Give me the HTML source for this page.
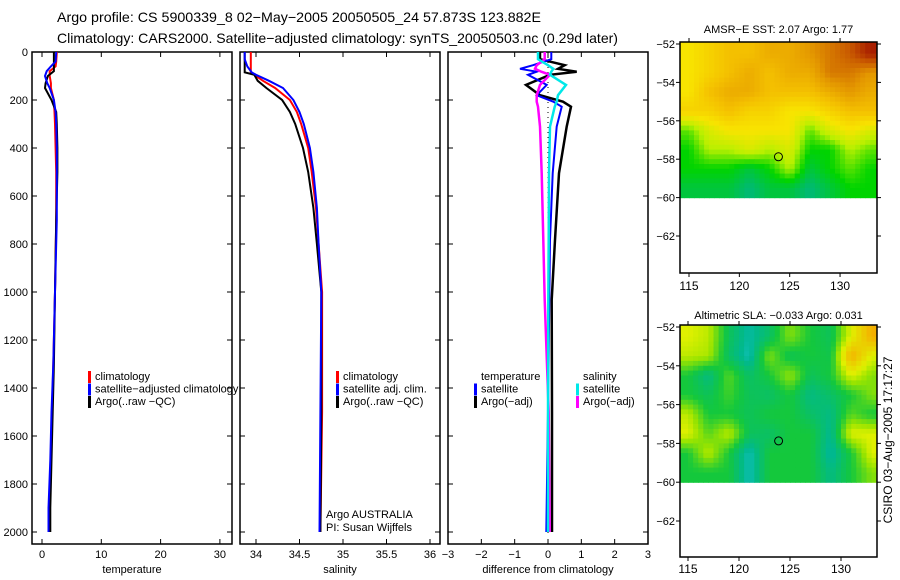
<!DOCTYPE html>
<html><head><meta charset="utf-8"><style>
html,body{margin:0;padding:0;background:#fff;}
svg{display:block;font-family:"Liberation Sans",sans-serif;}
</style></head><body>
<svg id="fig" width="900" height="580" viewBox="0 0 900 580" xmlns="http://www.w3.org/2000/svg">
<text x="57" y="22" font-size="14" textLength="484" lengthAdjust="spacingAndGlyphs">Argo profile: CS 5900339_8 02−May−2005 20050505_24 57.873S 123.882E</text>
<text x="57" y="43" font-size="14" textLength="561" lengthAdjust="spacingAndGlyphs">Climatology: CARS2000. Satellite−adjusted climatology: synTS_20050503.nc (0.29d later)</text>
<g id="plots"></g>
<text transform="translate(892,440) rotate(-90)" text-anchor="middle" font-size="12">CSIRO 03−Aug−2005 17:17:27</text>
</svg>
<script>
// ---- profile data ----
const tDepth = [0,40,60,80,100,130,150,200,250,300,400,500,700,1000,1300,1500,1700,1900,2000];
const tClim  = [2.5,2.4,2.3,1.3,1.3,1.5,1.5,2.0,2.1,2.2,2.3,2.4,2.4,2.2,1.9,1.7,1.5,1.3,1.3];
const tSat   = [2.4,2.3,1.5,0.8,0.5,0.9,1.3,2.0,2.3,2.4,2.5,2.5,2.5,2.2,1.9,1.6,1.4,1.1,1.1];
const tArgo  = [2.0,2.0,2.0,2.0,1.0,0.6,0.5,1.6,2.4,2.5,2.6,2.6,2.4,2.2,2.0,1.8,1.6,1.4,1.4];
const sDepth = [0,30,60,85,95,120,150,200,250,300,400,500,650,800,1000,1500,2000];
const sClim  = [33.94,33.94,33.94,33.94,33.98,34.08,34.22,34.39,34.47,34.52,34.60,34.64,34.69,34.72,34.76,34.76,34.74];
const sSat   = [33.87,33.87,33.9,33.95,34.0,34.15,34.31,34.43,34.50,34.55,34.62,34.66,34.70,34.72,34.75,34.74,34.73];
const sArgo  = [33.87,33.87,33.87,33.87,33.98,34.02,34.12,34.30,34.39,34.45,34.54,34.60,34.66,34.70,34.75,34.75,34.74];
const dDepth = [0,30,55,70,82,95,137,180,207,228,311,505,783,1033,1500,2000];
const dTArgo = [-0.24,-0.24,0.5,0.3,0.86,0.06,-0.66,-0.24,0.45,0.69,0.56,0.33,0.21,0.11,0.12,0.12];
const dTSat  = [0.1,0.1,-0.45,-0.84,-0.34,-0.6,-0.04,-0.34,0.16,0.41,0.26,0.14,0.06,0.04,0.0,-0.05];
const dSSat  = [-0.3,-0.3,0.0,0.16,0.1,0.06,0.54,0.3,0.26,0.2,0.06,0.03,0.02,0.01,0.0,0.0];
const dSArgo = [-0.1,-0.1,-0.34,-0.39,-0.2,0.06,-0.24,-0.34,-0.34,-0.3,-0.24,-0.19,-0.14,-0.1,0.02,0.05];
// ---- map data (rows from -52 southward, 1 deg; cols from 114E, 2 deg) ----
const mapLon0 = 114, mapDLon = 2, mapLat0 = -52, mapDLat = 1;
const sstGrid = [
 [3.5,4,4.5,4.5,5,5,5.5,6,6.5,7.3],
 [3.5,4,4.5,5,4.5,5,5,6,6,5.5],
 [3.5,4.5,5,5,4.5,4.5,4.5,5,5.5,5],
 [4,4,4.5,4,4,3.5,3.5,4,4.5,4.5],
 [2,3,3.5,3.5,3.5,3.5,2,3,3.5,3],
 [1.5,2.5,2.5,3,2.5,3,1.5,1.5,2.5,2],
 [1.5,1.5,1.5,1,1.5,2.5,1,1.5,2,1.5],
 [1,1,1,0.5,1,1,0.5,1,1.5,1.5]];
const slaGrid = [
 [1,0.8,-0.2,-0.7,-0.3,0.5,0,-0.2,1,2],
 [0.8,0.7,-0.3,-0.8,0.5,-0.2,0,-0.1,2,1],
 [0,-0.5,0.3,-0.3,0,0.6,-0.2,0,1,0.5],
 [0,-0.2,0.2,-0.2,-0.3,0,-0.5,-0.3,0,0.5],
 [0.8,0,0,-0.2,0,0,-0.3,-0.5,0.3,0],
 [1,0.3,0.8,-0.2,-0.3,0,0,-0.6,1,1],
 [0,0.8,0,-0.8,0,0,0,-0.7,0,1],
 [0,0,0,-0.8,0,0,0,-0.5,0,0.5]];
const argoLon = 123.882, argoLat = -57.873;

const NS="http://www.w3.org/2000/svg";
const root=document.getElementById('plots');
function mk(tag,attrs,parent){const e=document.createElementNS(NS,tag);for(const k in attrs)e.setAttribute(k,attrs[k]);(parent||root).appendChild(e);return e;}
function txt(s,x,y,anchor,size,parent){const t=mk('text',{x:x,y:y,'text-anchor':anchor||'start','font-size':size||11},parent);t.textContent=s;return t;}

const pTop=52, pBot=544;
const yD=d=>pTop+d*0.24;

function panel(name,x0,x1,xs,ticks,labels,title,showY){
  const g=mk('g',{});
  
  
  const box=mk('rect',{x:x0,y:pTop,width:x1-x0,height:pBot-pTop,fill:'none',stroke:'#000','stroke-width':1.5},g);
  
  
  ticks.forEach((v,i)=>{const X=xs(v);
    mk('line',{x1:X,x2:X,y1:pTop,y2:pTop+5,stroke:'#000'},g);
    mk('line',{x1:X,x2:X,y1:pBot,y2:pBot-5,stroke:'#000'},g);
    const t=txt(labels[i],X,558,'middle',11,g);
    
    
  });
  for(let d=0;d<=2000;d+=200){const Y=yD(d);
    mk('line',{x1:x0,x2:x0+5,y1:Y,y2:Y,stroke:'#000'},g);
    mk('line',{x1:x1,x2:x1-5,y1:Y,y2:Y,stroke:'#000'},g);
    if(showY){const t=txt(String(d),28,Y+4,'end',11,g);
      
      }
  }
  const tt=txt(title,(x0+x1)/2,573,'middle',11,g);
  
  
  return g;
}
function stepLine(g,depths,vals,xs,color,w,name){
  let p='';
  for(let i=0;i<depths.length;i++){const X=xs(vals[i]),Y=yD(depths[i]);p+=(i?'L':'M')+X.toFixed(1)+' '+Y.toFixed(1);}
  const e=mk('path',{d:p,fill:'none',stroke:color,'stroke-width':w},g);
  
  
}
function legend(g,x,y,items){
  items.forEach((it,i)=>{
    if(it[1]){const r=mk('rect',{x:x,y:y+i*12.5-9,width:3,height:12,fill:it[1]},g);
      
      }
    const t=txt(it[0],x+7,y+i*12.5,'start',11,g);
    
    
  });
}
// Panel 1 temperature
const xT=v=>42+v*5.93;
const g1=panel('temperature-panel',32,232,xT,[0,10,20,30],['0','10','20','30'],'temperature',true);
stepLine(g1,tDepth,tClim,xT,'#ff0000',2,'temperature-climatology-line');
stepLine(g1,tDepth,tArgo,xT,'#000000',2,'temperature-argo-line');
stepLine(g1,tDepth,tSat,xT,'#0000ff',2,'temperature-satellite-line');
legend(g1,88,380,[['climatology','#ff0000'],['satellite−adjusted climatology','#0000ff'],['Argo(..raw −QC)','#000']]);
// Panel 2 salinity
const xS=v=>256+(v-34)*87;
const g2=panel('salinity-panel',240,440,xS,[34,34.5,35,35.5,36],['34','34.5','35','35.5','36'],'salinity',false);
stepLine(g2,sDepth,sClim,xS,'#ff0000',2,'salinity-climatology-line');
stepLine(g2,sDepth,sArgo,xS,'#000000',2,'salinity-argo-line');
stepLine(g2,sDepth,sSat,xS,'#0000ff',2,'salinity-satellite-line');
legend(g2,336,380,[['climatology','#ff0000'],['satellite adj. clim.','#0000ff'],['Argo(..raw −QC)','#000']]);
let a=txt('Argo AUSTRALIA',326,518,'start',11,g2);
a=txt('PI: Susan Wijffels',326,531,'start',11,g2);
// Panel 3 difference
const xD=v=>548+v*33.33;
const g3=panel('difference-panel',448,648,xD,[-3,-2,-1,0,1,2,3],['−3','−2','−1','0','1','2','3'],'difference from climatology',false);
const z=mk('line',{x1:xD(0),x2:xD(0),y1:pTop,y2:pBot-10,stroke:'#000','stroke-dasharray':'1 4'},g3);

stepLine(g3,dDepth,dTArgo,xD,'#000',2.5,'diff-temperature-argo-line');
stepLine(g3,dDepth,dTSat,xD,'#0000ff',2,'diff-temperature-satellite-line');
stepLine(g3,dDepth,dSArgo,xD,'#ff00ff',2.5,'diff-salinity-argo-line');
stepLine(g3,dDepth,dSSat,xD,'#00e8e8',2.5,'diff-salinity-satellite-line');
legend(g3,474,380,[['temperature',null],['satellite','#0000ff'],['Argo(−adj)','#000']]);
legend(g3,576,380,[['salinity',null],['satellite','#00e8e8'],['Argo(−adj)','#ff00ff']]);

// ---- maps ----
function lerpColor(stops,v){
  if(v<=stops[0][0])return stops[0][1];
  for(let i=1;i<stops.length;i++){if(v<=stops[i][0]){const [a0,c0]=stops[i-1],[a1,c1]=stops[i];const f=(v-a0)/(a1-a0);
    const p=h=>[1,3,5].map(k=>parseInt(h.substr(k,2),16));const A=p(c0),B=p(c1);
    return 'rgb('+A.map((x,j)=>Math.round(x+(B[j]-x)*f)).join(',')+')';}}
  return stops[stops.length-1][1];
}
function sample(grid,gr,gc){
  const R=grid.length,C=grid[0].length;
  gr=Math.max(0,Math.min(R-1,gr));gc=Math.max(0,Math.min(C-1,gc));
  const r0=Math.floor(gr),c0=Math.floor(gc),r1=Math.min(R-1,r0+1),c1=Math.min(C-1,c0+1),fr=gr-r0,fc=gc-c0;
  return grid[r0][c0]*(1-fr)*(1-fc)+grid[r0][c1]*(1-fr)*fc+grid[r1][c0]*fr*(1-fc)+grid[r1][c1]*fr*fc;
}
const sstStops=[[0.5,'#00b878'],[1.5,'#00d400'],[2.5,'#b8f000'],[3.5,'#f8e400'],[4.5,'#f4c000'],[5.5,'#e49800'],[6.5,'#c85800'],[7.5,'#a01000']];
const slaStops=[[-1,'#20c8d8'],[-0.6,'#00b890'],[0,'#14c83c'],[0.6,'#98e400'],[1,'#e0f000'],[2,'#f4b000']];
function map(name,bx0,by0,bx1,by1,lon115,pxLon,lat52y,pxLat,grid,stops,title,titleY,labY,clipId){
  const g=mk('g',{});
  
  
  const xl=lon=>lon115+(lon-115)*pxLon, yl=lat=>lat52y+(-52-lat)*pxLat;
  const cp=mk('clipPath',{id:clipId},g);mk('rect',{x:bx0,y:by0,width:bx1-bx0,height:by1-by0},cp);
  const cells=mk('g',{'clip-path':'url(#'+clipId+')'},g);
  const sub=4, R=grid.length, C=grid[0].length;
  const dLon=mapDLon/sub, dLat=mapDLat/sub;
  for(let i=0;i<R*sub;i++){for(let j=0;j<C*sub;j++){
    const lonA=mapLon0+j*dLon, latA=mapLat0-i*dLat;
    const gc=(j+0.5)/sub-0.5, gr=(i+0.5)/sub-0.5;
    const v=sample(grid,gr,gc);
    const x=xl(lonA), y=i===0?by0:yl(latA), y2=yl(latA-dLat);
    const e=mk('rect',{x:x.toFixed(1),y:y.toFixed(1),width:(xl(lonA+dLon)-x+0.6).toFixed(1),height:(y2-y+0.6).toFixed(1),fill:lerpColor(stops,v)},cells);
    
    
  }}
  const fr=mk('rect',{x:bx0,y:by0,width:bx1-bx0,height:by1-by0,fill:'none',stroke:'#000','stroke-width':1.5},g);
  
  [115,120,125,130].forEach(l=>{const X=xl(l);mk('line',{x1:X,x2:X,y1:by0,y2:by0-4,stroke:'#000'},g);mk('line',{x1:X,x2:X,y1:by1,y2:by1+4,stroke:'#000'},g);
    const t=txt(String(l),X,labY,'middle',12,g);});
  [-52,-54,-56,-58,-60,-62].forEach(l=>{const Y=yl(l);mk('line',{x1:bx0,x2:bx0-4,y1:Y,y2:Y,stroke:'#000'},g);mk('line',{x1:bx1,x2:bx1+4,y1:Y,y2:Y,stroke:'#000'},g);
    const t=txt('−'+String(-l),bx0-5,Y+4,'end',11,g);});
  const c=mk('circle',{cx:xl(argoLon),cy:yl(argoLat),r:4,fill:'none',stroke:'#000','stroke-width':1},g);
  
  const tt=txt(title,(bx0+bx1)/2,titleY,'middle',11,g);
}
map('sst-map',680,42,877,273,689,10.07,44,19.2,sstGrid,sstStops,'AMSR−E SST: 2.07 Argo: 1.77',33,290,'c1');
map('sla-map',680,325,877,557,688,10.2,327,19.4,slaGrid,slaStops,'Altimetric SLA: −0.033 Argo: 0.031',319,573,'c2');
</script>
</body></html>
